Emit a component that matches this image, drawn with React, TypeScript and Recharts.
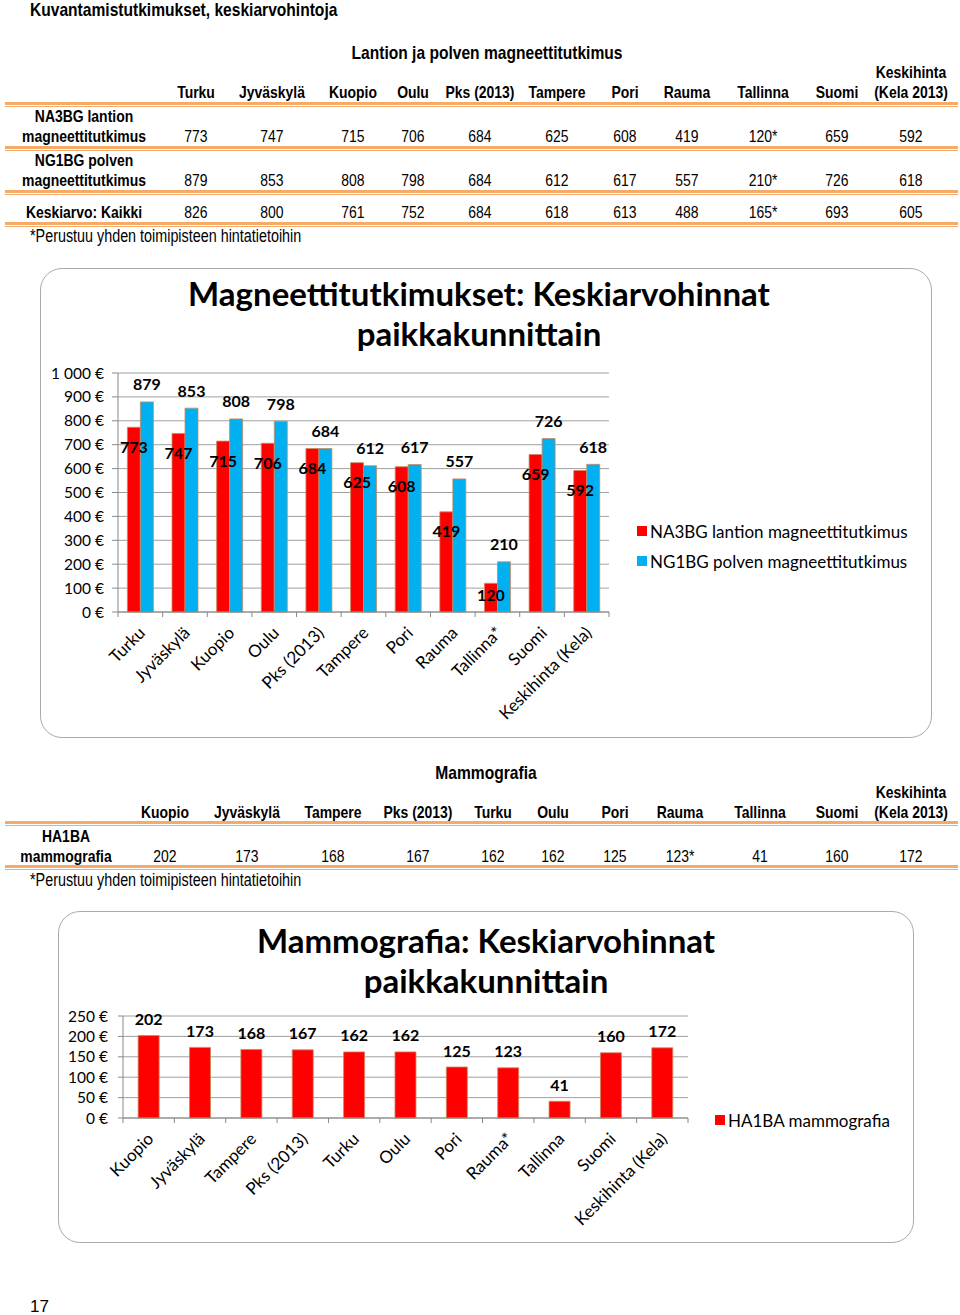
import React from "react";
import { Bar, BarChart, CartesianGrid, LabelList, Legend, XAxis, YAxis } from "recharts";

// --- data -------------------------------------------------------------
const mriCities = [
  "Turku", "Jyväskylä", "Kuopio", "Oulu", "Pks (2013)", "Tampere",
  "Pori", "Rauma", "Tallinna*", "Suomi", "Keskihinta (Kela)",
];
const lantionValues = [773, 747, 715, 706, 684, 625, 608, 419, 120, 659, 592];
const polvenValues = [879, 853, 808, 798, 684, 612, 617, 557, 210, 726, 618];
const mriTicks = [0, 100, 200, 300, 400, 500, 600, 700, 800, 900, 1000];

const mriHeads = ["Turku", "Jyväskylä", "Kuopio", "Oulu", "Pks (2013)", "Tampere", "Pori", "Rauma", "Tallinna", "Suomi"];
const mriRowLantion = ["773", "747", "715", "706", "684", "625", "608", "419", "120*", "659", "592"];
const mriRowPolven = ["879", "853", "808", "798", "684", "612", "617", "557", "210*", "726", "618"];
const mriRowKaikki = ["826", "800", "761", "752", "684", "618", "613", "488", "165*", "693", "605"];

const mammoCities = [
  "Kuopio", "Jyväskylä", "Tampere", "Pks (2013)", "Turku", "Oulu",
  "Pori", "Rauma*", "Tallinna", "Suomi", "Keskihinta (Kela)",
];
const mammoValues = [202, 173, 168, 167, 162, 162, 125, 123, 41, 160, 172];
const mammoTicks = [0, 50, 100, 150, 200, 250];

const mammoHeads = ["Kuopio", "Jyväskylä", "Tampere", "Pks (2013)", "Turku", "Oulu", "Pori", "Rauma", "Tallinna", "Suomi"];
const mammoRow = ["202", "173", "168", "167", "162", "162", "125", "123*", "41", "160", "172"];

// --- layout / style ---------------------------------------------------
const mriCols = [196, 272, 353, 413, 480, 557, 625, 687, 763, 837, 911];
const mammoCols = [165, 247, 333, 418, 493, 553, 615, 680, 760, 837, 911];

// Arial Narrow is not available: squeeze Liberation Sans instead
const NARROW = '"Liberation Sans", Arial, sans-serif';
const CHART_FONT = 'Lato, "Noto Sans", sans-serif';
const ORANGE = "#f4aa68";
const RED = "#ff0000";
const BLUE = "#00b0f0";
const GRID = "#a0a0a0";

const mriData = mriCities.map((city, i) => ({ city, lantion: lantionValues[i], polven: polvenValues[i] }));
const mammoData = mammoCities.map((city, i) => ({ city, mammo: mammoValues[i] }));

const euro = (v: number) => String(v).replace(/\B(?=(\d{3})+(?!\d))/g, "\u00a0") + " €";

function Txt({ x, y, children, bold = false, size = 17, left = false, font = NARROW, squeeze = 0.82 }: any) {
  return (
    <div
      style={{
        position: "absolute",
        left: x,
        top: y,
        transform: (left ? "translate(0,-50%)" : "translate(-50%,-50%)") + ` scaleX(${squeeze})`,
        transformOrigin: left ? "left center" : "center center",
        whiteSpace: "nowrap",
        fontWeight: bold ? 700 : 400,
        fontSize: size,
        lineHeight: 1,
        fontFamily: font,
        color: "#000",
      }}
    >
      {children}
    </div>
  );
}

function ChartTitle({ x, y, lines }: { x: number; y: number; lines: string[] }) {
  return (
    <div
      style={{
        position: "absolute",
        left: x,
        top: y,
        transform: "translate(-50%,0)",
        whiteSpace: "nowrap",
        textAlign: "center",
        fontFamily: CHART_FONT,
        fontWeight: 700,
        fontSize: 33,
        lineHeight: "40px",
        color: "#000",
      }}
    >
      {lines[0]}
      <br />
      {lines[1]}
    </div>
  );
}

function Rule({ y }: { y: number }) {
  return (
    <>
      <div style={{ position: "absolute", left: 5, width: 953, top: y, height: 2.5, background: ORANGE }} />
      <div style={{ position: "absolute", left: 5, width: 953, top: y + 4, height: 1.3, background: ORANGE }} />
    </>
  );
}

function Box({ x, y, w, h }: any) {
  return (
    <div
      style={{
        position: "absolute",
        left: x,
        top: y,
        width: w,
        height: h,
        boxSizing: "border-box",
        border: "1.5px solid #ababab",
        borderRadius: 22,
        background: "#fff",
      }}
    />
  );
}

// x axis tick: rotated label + boundary tick marks (Excel style)
const makeTick = (band: number, count: number, dx: number, dy: number) => (props: any) => {
  const { x, y, payload, index } = props;
  return (
    <g>
      <line x1={x - band / 2} x2={x - band / 2} y1={y} y2={y + 5} stroke="#888" />
      {index === count - 1 && <line x1={x + band / 2} x2={x + band / 2} y1={y} y2={y + 5} stroke="#888" />}
      <text
        x={x + dx}
        y={y + dy}
        transform={`rotate(-45 ${x + dx} ${y + dy})`}
        textAnchor="end"
        fontFamily={CHART_FONT}
        fontSize={17}
        fill="#000"
      >
        {payload.value}
      </text>
    </g>
  );
};

// positive offset = inside the bar below its top (kept within short bars)
const valueLabel = (offset: number) => (props: any) => {
  const { x, y, width, height, value } = props;
  const dy = offset > 0 ? Math.min(offset, height / 2 - 3) : offset;
  return (
    <text
      x={x + width / 2}
      y={y + dy}
      textAnchor="middle"
      dominantBaseline="central"
      fontFamily={CHART_FONT}
      fontWeight={700}
      fontSize={16}
      fill="#000"
    >
      {value}
    </text>
  );
};

const legendContent = (props: any) => (
  <div>
    {(props.payload || []).map((p: any) => (
      <div
        key={p.value}
        style={{ display: "flex", alignItems: "center", height: 30, fontFamily: CHART_FONT, fontSize: 17, whiteSpace: "nowrap" }}
      >
        <span style={{ width: 10, height: 10, background: p.color, marginRight: 3, display: "inline-block" }} />
        {p.value}
      </div>
    ))}
  </div>
);

export default function App() {
  return (
    <div style={{ position: "absolute", left: 0, top: 0, width: 960, height: 1315, background: "#fff", overflow: "hidden" }}>
      <Txt x={30} y={9} bold left size={19}>Kuvantamistutkimukset, keskiarvohintoja</Txt>

      {/* table 1 */}
      <Txt x={487} y={52} bold size={19}>Lantion ja polven magneettitutkimus</Txt>
      {mriHeads.map((h, i) => (
        <Txt key={h} x={mriCols[i]} y={92} bold>{h}</Txt>
      ))}
      <Txt x={911} y={72} bold>Keskihinta</Txt>
      <Txt x={911} y={92} bold>(Kela 2013)</Txt>
      <Rule y={102} />
      <Txt x={84} y={116} bold>NA3BG lantion</Txt>
      <Txt x={84} y={136} bold>magneettitutkimus</Txt>
      {mriRowLantion.map((v, i) => (
        <Txt key={i} x={mriCols[i]} y={136}>{v}</Txt>
      ))}
      <Rule y={146} />
      <Txt x={84} y={160} bold>NG1BG polven</Txt>
      <Txt x={84} y={180} bold>magneettitutkimus</Txt>
      {mriRowPolven.map((v, i) => (
        <Txt key={i} x={mriCols[i]} y={180}>{v}</Txt>
      ))}
      <Rule y={190} />
      <Txt x={84} y={212} bold>Keskiarvo: Kaikki</Txt>
      {mriRowKaikki.map((v, i) => (
        <Txt key={i} x={mriCols[i]} y={212}>{v}</Txt>
      ))}
      <Rule y={222} />
      <Txt x={30} y={237} left size={17.5}>*Perustuu yhden toimipisteen hintatietoihin</Txt>

      {/* chart 1 */}
      <Box x={40} y={268} w={892} h={470} />
      <ChartTitle x={479} y={273} lines={["Magneettitutkimukset: Keskiarvohinnat", "paikkakunnittain"]} />
      <div style={{ position: "absolute", left: 40, top: 268 }}>
        <BarChart
          width={892}
          height={470}
          data={mriData}
          margin={{ top: 105, right: 323, bottom: 26, left: 18 }}
          barCategoryGap="21%"
          barGap={0}
        >
          <CartesianGrid vertical={false} stroke={GRID} />
          <XAxis
            dataKey="city"
            interval={0}
            height={100}
            tickSize={0}
            tickMargin={0}
            tickLine={false}
            axisLine={{ stroke: "#888" }}
            tick={makeTick(491 / 11, 11, 6, 22)}
          />
          <YAxis
            width={60}
            domain={[0, 1000]}
            ticks={mriTicks}
            interval={0}
            tickFormatter={euro}
            tickSize={6}
            tickMargin={8}
            axisLine={{ stroke: "#888" }}
            tickLine={{ stroke: "#888" }}
            tick={{ fontFamily: CHART_FONT, fontSize: 15.5, fill: "#000" }}
          />
          <Legend
            layout="horizontal"
            align="center"
            verticalAlign="middle"
            content={legendContent}
            wrapperStyle={{ left: 597, top: 248, width: 290, height: 60 }}
          />
          <Bar dataKey="lantion" name="NA3BG lantion magneettitutkimus" fill={RED} stroke="#c98a5e" strokeWidth={0.8} isAnimationActive={false}>
            <LabelList dataKey="lantion" content={valueLabel(19)} />
          </Bar>
          <Bar dataKey="polven" name="NG1BG polven magneettitutkimus" fill={BLUE} stroke="#c98a5e" strokeWidth={0.8} isAnimationActive={false}>
            <LabelList dataKey="polven" content={valueLabel(-18)} />
          </Bar>
        </BarChart>
      </div>

      {/* table 2 */}
      <Txt x={486} y={772} bold size={19}>Mammografia</Txt>
      {mammoHeads.map((h, i) => (
        <Txt key={h} x={mammoCols[i]} y={812} bold>{h}</Txt>
      ))}
      <Txt x={911} y={792} bold>Keskihinta</Txt>
      <Txt x={911} y={812} bold>(Kela 2013)</Txt>
      <Rule y={821} />
      <Txt x={66} y={836} bold>HA1BA</Txt>
      <Txt x={66} y={856} bold>mammografia</Txt>
      {mammoRow.map((v, i) => (
        <Txt key={i} x={mammoCols[i]} y={856}>{v}</Txt>
      ))}
      <Rule y={865} />
      <Txt x={30} y={881} left size={17.5}>*Perustuu yhden toimipisteen hintatietoihin</Txt>

      {/* chart 2 */}
      <Box x={58} y={911} w={856} h={332} />
      <ChartTitle x={486} y={920} lines={["Mammografia: Keskiarvohinnat", "paikkakunnittain"]} />
      <div style={{ position: "absolute", left: 58, top: 911 }}>
        <BarChart
          width={856}
          height={332}
          data={mammoData}
          margin={{ top: 105, right: 226, bottom: 25, left: 5 }}
          barCategoryGap="29.5%"
        >
          <CartesianGrid vertical={false} stroke={GRID} />
          <XAxis
            dataKey="city"
            interval={0}
            height={100}
            tickSize={0}
            tickMargin={0}
            tickLine={false}
            axisLine={{ stroke: "#888" }}
            tick={makeTick(565 / 11, 11, 6, 22)}
          />
          <YAxis
            width={60}
            domain={[0, 250]}
            ticks={mammoTicks}
            interval={0}
            tickFormatter={euro}
            tickSize={5}
            tickMargin={10}
            axisLine={{ stroke: "#888" }}
            tickLine={{ stroke: "#888" }}
            tick={{ fontFamily: CHART_FONT, fontSize: 15.5, fill: "#000" }}
          />
          <Legend
            layout="horizontal"
            align="center"
            verticalAlign="middle"
            content={legendContent}
            wrapperStyle={{ left: 657, top: 194, width: 200, height: 30 }}
          />
          <Bar dataKey="mammo" name="HA1BA mammografia" fill={RED} stroke="#c98a5e" strokeWidth={0.8} isAnimationActive={false}>
            <LabelList dataKey="mammo" content={valueLabel(-17)} />
          </Bar>
        </BarChart>
      </div>

      <Txt x={30} y={1306} left size={17} squeeze={1}>17</Txt>
    </div>
  );
}
